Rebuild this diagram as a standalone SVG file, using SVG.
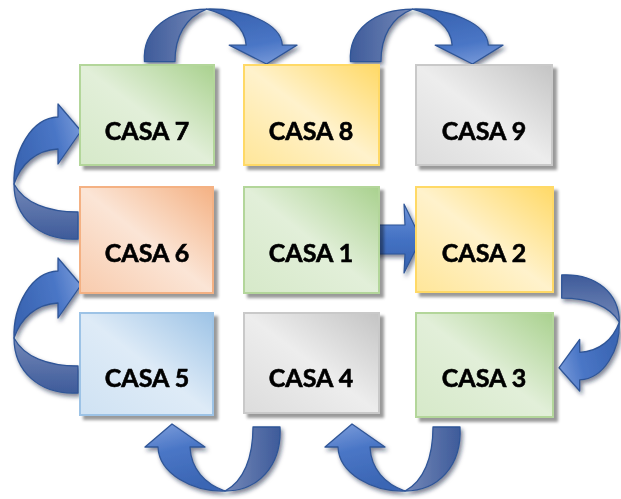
<svg xmlns="http://www.w3.org/2000/svg" xmlns:xlink="http://www.w3.org/1999/xlink" width="621" height="499" viewBox="0 0 621 499">
  <style>
    .lbl { font-family: Lato, "Open Sans", "Liberation Sans", sans-serif; font-weight: 700; font-size: 25px; fill: #000; stroke: #000; stroke-width: 0.6; text-anchor: middle; }
    .box { stroke-width: 2; }
    .green { fill: url(#gGreen); stroke: #b3d69a; }
    .yellow { fill: url(#gYellow); stroke: #ffd966; }
    .gray { fill: url(#gGray); stroke: #c9c9c9; }
    .orange { fill: url(#gOrange); stroke: #f4b183; }
    .blue { fill: url(#gBlue); stroke: #9dc3e6; }
    .front { fill: url(#gFront); stroke: #2f5597; stroke-width: 1.3; vector-effect: non-scaling-stroke; stroke-linejoin: round; }
    .back { fill: url(#gBack); stroke: #2f5597; stroke-width: 1.3; vector-effect: non-scaling-stroke; stroke-linejoin: round; }
  </style>
  <defs>
    <linearGradient id="gGreen" x1="1" y1="0" x2="0" y2="1">
      <stop offset="0" stop-color="#a9d18e"/>
      <stop offset="0.5" stop-color="#e2efd9"/>
      <stop offset="1" stop-color="#d6e9c9"/>
    </linearGradient>
    <linearGradient id="gYellow" x1="1" y1="0" x2="0" y2="1">
      <stop offset="0" stop-color="#ffd966"/>
      <stop offset="0.5" stop-color="#fff2cc"/>
      <stop offset="1" stop-color="#ffe699"/>
    </linearGradient>
    <linearGradient id="gGray" x1="1" y1="0" x2="0" y2="1">
      <stop offset="0" stop-color="#c4c4c4"/>
      <stop offset="0.5" stop-color="#ededed"/>
      <stop offset="1" stop-color="#dcdcdc"/>
    </linearGradient>
    <linearGradient id="gOrange" x1="1" y1="0" x2="0" y2="1">
      <stop offset="0" stop-color="#f4b183"/>
      <stop offset="0.5" stop-color="#fbe5d6"/>
      <stop offset="1" stop-color="#f8cbad"/>
    </linearGradient>
    <linearGradient id="gBlue" x1="1" y1="0" x2="0" y2="1">
      <stop offset="0" stop-color="#9dc3e6"/>
      <stop offset="0.5" stop-color="#deebf7"/>
      <stop offset="1" stop-color="#cfe2f3"/>
    </linearGradient>
    <linearGradient id="gFront" x1="0" y1="0" x2="0.3" y2="1">
      <stop offset="0" stop-color="#7f9fdc"/>
      <stop offset="0.45" stop-color="#4a76c6"/>
      <stop offset="1" stop-color="#3b66b4"/>
    </linearGradient>
    <linearGradient id="gBack" x1="0" y1="0" x2="1" y2="0">
      <stop offset="0" stop-color="#7488b8"/>
      <stop offset="1" stop-color="#3e5b9a"/>
    </linearGradient>
    <linearGradient id="gStraight" x1="0" y1="0" x2="0" y2="1">
      <stop offset="0" stop-color="#6f93d8"/>
      <stop offset="0.5" stop-color="#4472c4"/>
      <stop offset="1" stop-color="#3560ad"/>
    </linearGradient>
    <filter id="boxShadow" x="-10%" y="-10%" width="125%" height="125%">
      <feDropShadow dx="4" dy="4" stdDeviation="1.5" flood-color="#000" flood-opacity="0.4"/>
    </filter>
    <filter id="arrowShadow" x="-20%" y="-20%" width="140%" height="140%">
      <feDropShadow dx="2" dy="3" stdDeviation="2" flood-color="#0a1a40" flood-opacity="0.55"/>
    </filter>
    <!-- U-turn arrow: tail enters at top right, folds at the bottom, head points up on the left -->
    <g id="uturn">
      <path class="back" d="M108,3 L135,3 C137,42 113,67 80,67 C99,57 108,33 108,3 Z"/>
      <path class="front" d="M13,23 C14,50 48,68 80,67 C60,60 46,45 45,23 L60,23 L27,0 L0,23 Z"/>
    </g>
  </defs>

  <rect width="621" height="499" fill="#fff"/>

  <g id="connectors">
    <!-- CASA 7 -> CASA 8 -->
    <g filter="url(#arrowShadow)"><use xlink:href="#uturn" transform="translate(297,64) scale(-1.13,-0.82)"/></g>
    <!-- CASA 8 -> CASA 9 -->
    <g filter="url(#arrowShadow)"><use xlink:href="#uturn" transform="translate(503,64) scale(-1.13,-0.82)"/></g>
    <!-- CASA 6 -> CASA 7 -->
    <g filter="url(#arrowShadow)"><use xlink:href="#uturn" transform="matrix(0,1,-1,0,81,104)"/></g>
    <!-- CASA 5 -> CASA 6 -->
    <g filter="url(#arrowShadow)"><use xlink:href="#uturn" transform="matrix(0,1,-1,0,81,258)"/></g>
    <!-- CASA 4 -> CASA 5 -->
    <g filter="url(#arrowShadow)"><use xlink:href="#uturn" transform="translate(145,424)"/></g>
    <!-- CASA 3 -> CASA 4 -->
    <g filter="url(#arrowShadow)"><use xlink:href="#uturn" transform="translate(325,424)"/></g>
    <!-- CASA 2 -> CASA 3 -->
    <g filter="url(#arrowShadow)"><use xlink:href="#uturn" transform="matrix(0,-0.86,0.9,0,559,391)"/></g>
    <!-- CASA 1 -> CASA 2 -->
    <path filter="url(#arrowShadow)" d="M374,225 L405,225 L404,204 L421,239 L404,273 L405,254 L374,254 Z" fill="url(#gStraight)" stroke="#2f5597" stroke-width="1.2" stroke-linejoin="round"/>
  </g>

  <g id="casa7" filter="url(#boxShadow)">
    <rect class="box green" x="80" y="65" width="134" height="100"/>
    <text class="lbl" x="147" y="140">CASA 7</text>
  </g>
  <g id="casa8" filter="url(#boxShadow)">
    <rect class="box yellow" x="244" y="65" width="135" height="100"/>
    <text class="lbl" x="311" y="140">CASA 8</text>
  </g>
  <g id="casa9" filter="url(#boxShadow)">
    <rect class="box gray" x="416" y="65" width="136" height="100"/>
    <text class="lbl" x="484" y="140">CASA 9</text>
  </g>
  <g id="casa6" filter="url(#boxShadow)">
    <rect class="box orange" x="80" y="187" width="133" height="106"/>
    <text class="lbl" x="147" y="262">CASA 6</text>
  </g>
  <g id="casa1" filter="url(#boxShadow)">
    <rect class="box green" x="244" y="187" width="135" height="106"/>
    <text class="lbl" x="311" y="262">CASA 1</text>
  </g>
  <g id="casa2" filter="url(#boxShadow)">
    <rect class="box yellow" x="416" y="187" width="137" height="105"/>
    <text class="lbl" x="484" y="262">CASA 2</text>
  </g>
  <g id="casa5" filter="url(#boxShadow)">
    <rect class="box blue" x="80" y="313" width="133" height="102"/>
    <text class="lbl" x="147" y="387">CASA 5</text>
  </g>
  <g id="casa4" filter="url(#boxShadow)">
    <rect class="box gray" x="244" y="313" width="135" height="100"/>
    <text class="lbl" x="311" y="387">CASA 4</text>
  </g>
  <g id="casa3" filter="url(#boxShadow)">
    <rect class="box green" x="416" y="313" width="137" height="104"/>
    <text class="lbl" x="484" y="387">CASA 3</text>
  </g>
</svg>
